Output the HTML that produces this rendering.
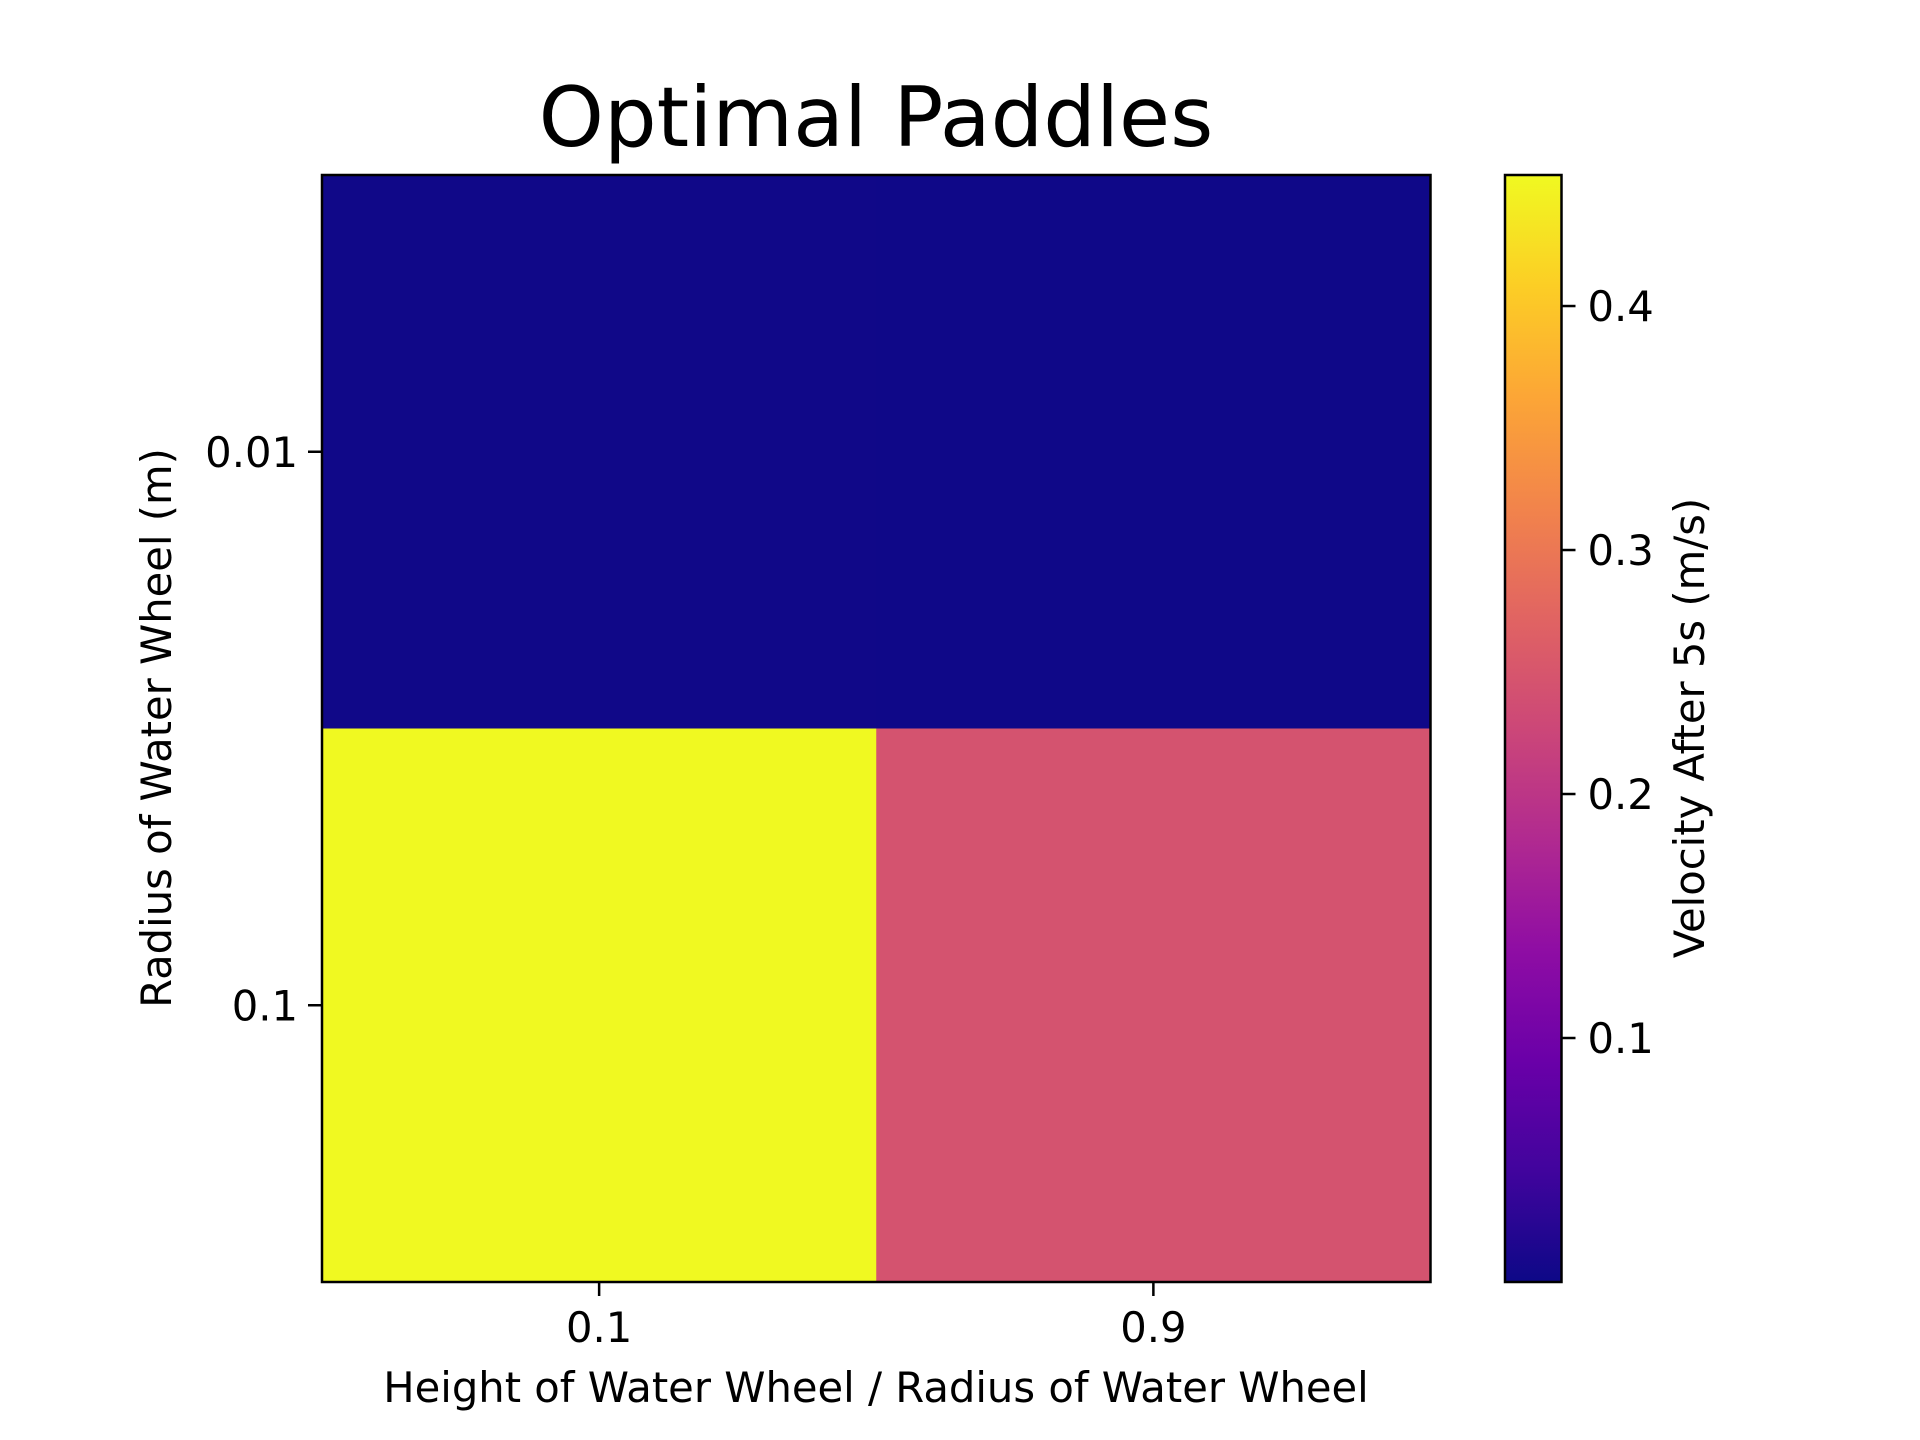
<!DOCTYPE html>
<html><head><meta charset="utf-8"><style>html,body{margin:0;padding:0;background:#fff}svg{display:block}</style></head>
<body>
<svg id="chart" width="1920" height="1440" viewBox="0 0 1920 1440" xmlns="http://www.w3.org/2000/svg" font-family="DejaVu Sans, Liberation Sans, sans-serif">
<defs>
<linearGradient id="plasma" x1="0" y1="1" x2="0" y2="0">
<stop offset="0" stop-color="#0d0887"/><stop offset="0.1" stop-color="#41049d"/><stop offset="0.2" stop-color="#6a00a8"/><stop offset="0.3" stop-color="#8f0da4"/><stop offset="0.4" stop-color="#b12a90"/><stop offset="0.5" stop-color="#cc4778"/><stop offset="0.6" stop-color="#e16462"/><stop offset="0.7" stop-color="#f2844b"/><stop offset="0.8" stop-color="#fca636"/><stop offset="0.9" stop-color="#fcce25"/><stop offset="1" stop-color="#f0f921"/>
</linearGradient>
</defs>
<rect width="1920" height="1440" fill="#fff"/>
<text x="876" y="146" font-size="83" text-anchor="middle">Optimal Paddles</text>
<g id="cells"></g>
<rect x="322" y="175" width="1108.5" height="1107" fill="none" stroke="#000" stroke-width="2.5"/>
<g id="xticks"></g><g id="yticks"></g>
<text x="876" y="1402" font-size="41.7" text-anchor="middle">Height of Water Wheel / Radius of Water Wheel</text>
<text x="0" y="0" font-size="41.7" text-anchor="middle" transform="translate(171,728) rotate(-90)">Radius of Water Wheel (m)</text>
<rect x="1505" y="175" width="56.5" height="1107" fill="url(#plasma)" stroke="#000" stroke-width="2.5"/>
<g id="cticks"></g>
<text x="0" y="0" font-size="41.7" text-anchor="middle" transform="translate(1704,728) rotate(-90)">Velocity After 5s (m/s)</text>
</svg>
<script>
const xCategories = ['0.1', '0.9'];
const yCategories = ['0.01', '0.1'];
const values = [[0.003, 0.002], [0.4537, 0.245]];
const colorTicks = [0.1, 0.2, 0.3, 0.4];
const vMin = 0.0, vMax = 0.4537;

const NS = 'http://www.w3.org/2000/svg';
const X0 = 322, X1 = 1430.5, Y0 = 175, Y1 = 1282, CB0 = 1505, CB1 = 1561.5;
const cw = (X1 - X0) / xCategories.length, ch = (Y1 - Y0) / yCategories.length;
const xPos = i => X0 + cw * i;
const yPos = j => Y0 + ch * j;
const cScale = v => Y1 - (v - vMin) / (vMax - vMin) * (Y1 - Y0);
const stops = ['#0d0887','#41049d','#6a00a8','#8f0da4','#b12a90','#cc4778','#e16462','#f2844b','#fca636','#fcce25','#f0f921'];
function hex(h){return [1,3,5].map(k=>parseInt(h.substr(k,2),16));}
function plasma(v){
  let t = Math.max(0, Math.min(1, (v - vMin) / (vMax - vMin))) * 10;
  const i = Math.min(9, Math.floor(t)), f = t - i;
  const a = hex(stops[i]), b = hex(stops[i+1]);
  return 'rgb(' + a.map((c,k)=>Math.round(c + (b[k]-c)*f)).join(',') + ')';
}
function el(tag, attrs, parent){const e=document.createElementNS(NS,tag);for(const k in attrs)e.setAttribute(k,attrs[k]);parent.appendChild(e);return e;}
const cells = document.getElementById('cells');
values.forEach((row, j) => row.forEach((v, i) => {
  const r = el('rect', {x: xPos(i), y: yPos(j), width: cw + 0.5, height: ch + 0.5, fill: plasma(v)}, cells);
  
  
}));
const xt = document.getElementById('xticks');
xCategories.forEach((c, i) => {
  const x = xPos(i) + cw / 2;
  const l = el('line', {x1: x, x2: x, y1: Y1, y2: Y1 + 14, stroke: '#000', 'stroke-width': 2.5}, xt);
  
  
  const t = el('text', {x: x, y: Y1 + 60, 'font-size': 41.7, 'text-anchor': 'middle'}, xt);
  t.textContent = c;
  
  
});
const yt = document.getElementById('yticks');
yCategories.forEach((c, j) => {
  const y = yPos(j) + ch / 2;
  const l = el('line', {x1: X0 - 14, x2: X0, y1: y, y2: y, stroke: '#000', 'stroke-width': 2.5}, yt);
  
  
  const t = el('text', {x: X0 - 24, y: y + 15, 'font-size': 41.7, 'text-anchor': 'end'}, yt);
  t.textContent = c;
  
  
});
const ct = document.getElementById('cticks');
colorTicks.forEach(v => {
  const y = cScale(v);
  const l = el('line', {x1: CB1, x2: CB1 + 14, y1: y, y2: y, stroke: '#000', 'stroke-width': 2.5}, ct);
  
  
  const t = el('text', {x: CB1 + 26, y: y + 15, 'font-size': 41.7}, ct);
  t.textContent = v.toFixed(1);
  
  
});
</script>
</body></html>
